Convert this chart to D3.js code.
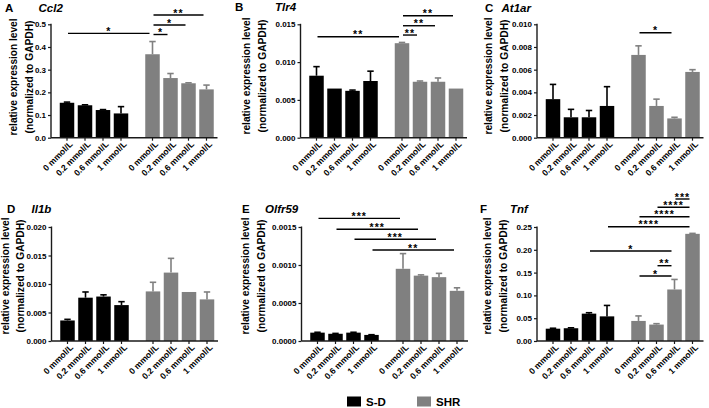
<!DOCTYPE html>
<html>
<head>
<meta charset="utf-8">
<script src="https://cdn.jsdelivr.net/npm/d3@7"></script>
<style>
  html, body { margin: 0; padding: 0; background: #ffffff; }
  svg { display: block; }
  text { font-family: "Liberation Sans", Arial, Helvetica, sans-serif; font-weight: bold; fill: #000; }
</style>
</head>
<body>
<svg id="chart" width="709" height="408"></svg>
<script>
// ---------------- DATA ----------------
const groups = ["S-D", "SHR"];
const doses = ["0 mmol/L", "0.2 mmol/L", "0.6 mmol/L", "1 mmol/L"];
const panelLetters = ["A", "B", "C", "D", "E", "F"];
const genes = ["Ccl2", "Tlr4", "At1ar", "Il1b", "Olfr59", "Tnf"];

// Ccl2
const ccl2SD = [0.154, 0.143, 0.122, 0.107];
const ccl2SDErr = [0.003, 0.002, 0.002, 0.030];
const ccl2SHR = [0.368, 0.263, 0.240, 0.213];
const ccl2SHRErr = [0.056, 0.020, 0.002, 0.019];
const ccl2Ticks = ["0.0", "0.1", "0.2", "0.3", "0.4", "0.5"];
const ccl2Sig = [[0, 4, "*", 0.460], [4, 5, "*", 0.455], [4, 6, "*", 0.497], [4, 7, "**", 0.541]];

// Tlr4
const tlr4SD = [0.0082, 0.0065, 0.0062, 0.0075];
const tlr4SDErr = [0.0012, 0, 0.0001, 0.0013];
const tlr4SHR = [0.0125, 0.0074, 0.0074, 0.0065];
const tlr4SHRErr = [0.0001, 0.0001, 0.0005, 0];
const tlr4Ticks = ["0.000", "0.005", "0.010", "0.015"];
const tlr4Sig = [[0, 4, "**", 0.01336], [4, 5, "**", 0.01358], [4, 6, "**", 0.01481], [4, 7, "**", 0.01614]];

// At1ar
const at1arSD = [0.0034, 0.0018, 0.0018, 0.0028];
const at1arSDErr = [0.0013, 0.0007, 0.0006, 0.0017];
const at1arSHR = [0.0073, 0.0028, 0.0017, 0.0058];
const at1arSHRErr = [0.0008, 0.0006, 0.0001, 0.0002];
const at1arTicks = ["0.000", "0.002", "0.004", "0.006", "0.008", "0.010"];
const at1arSig = [[4, 6, "*", 0.00926]];

// Il1b
const il1bSD = [0.0036, 0.0076, 0.0078, 0.0063];
const il1bSDErr = [0.0002, 0.0010, 0.0003, 0.0006];
const il1bSHR = [0.0087, 0.0120, 0.0086, 0.0073];
const il1bSHRErr = [0.0016, 0.0025, 0, 0.0013];
const il1bTicks = ["0.000", "0.005", "0.010", "0.015", "0.020"];
const il1bSig = [];

// Olfr59
const olfr59SD = [0.00011, 0.000095, 0.00011, 0.00008];
const olfr59SDErr = [0.000005, 0.000005, 0.000005, 0.000003];
const olfr59SHR = [0.00095, 0.00086, 0.00084, 0.00066];
const olfr59SHRErr = [0.0002, 0.00001, 0.00005, 0.00004];
const olfr59Ticks = ["0.0000", "0.0005", "0.0010", "0.0015"];
const olfr59Sig = [[0, 4, "***", 0.001614], [1, 5, "***", 0.00147], [2, 6, "***", 0.001338], [3, 7, "**", 0.001197]];

// Tnf
const tnfSD = [0.027, 0.028, 0.060, 0.054];
const tnfSDErr = [0.001, 0.001, 0.002, 0.024];
const tnfSHR = [0.044, 0.036, 0.113, 0.235];
const tnfSHRErr = [0.011, 0.002, 0.022, 0.001];
const tnfTicks = ["0.00", "0.05", "0.10", "0.15", "0.20", "0.25"];
const tnfSig = [[6, 7, "***", 0.3114], [5, 7, "****", 0.2932], [4, 7, "****", 0.2726], [3, 7, "****", 0.2507],
                [2, 6, "*", 0.1974], [5, 6, "**", 0.1651], [4, 6, "*", 0.1425]];

const yTitle = ["relative expression level", "(normalized to GAPDH)"];

// ---------------- LAYOUT / STYLE ----------------
const colors = { "S-D": "#000000", "SHR": "#808080" };
const panelsData = [
  { sd: ccl2SD, sdErr: ccl2SDErr, shr: ccl2SHR, shrErr: ccl2SHRErr, ticks: ccl2Ticks, sig: ccl2Sig },
  { sd: tlr4SD, sdErr: tlr4SDErr, shr: tlr4SHR, shrErr: tlr4SHRErr, ticks: tlr4Ticks, sig: tlr4Sig },
  { sd: at1arSD, sdErr: at1arSDErr, shr: at1arSHR, shrErr: at1arSHRErr, ticks: at1arTicks, sig: at1arSig },
  { sd: il1bSD, sdErr: il1bSDErr, shr: il1bSHR, shrErr: il1bSHRErr, ticks: il1bTicks, sig: il1bSig },
  { sd: olfr59SD, sdErr: olfr59SDErr, shr: olfr59SHR, shrErr: olfr59SHRErr, ticks: olfr59Ticks, sig: olfr59Sig },
  { sd: tnfSD, sdErr: tnfSDErr, shr: tnfSHR, shrErr: tnfSHRErr, ticks: tnfTicks, sig: tnfSig }
];
const layout = [
  { ax: 51,  top: 24.3, bottom: 137.7, letterX: 5,   geneX: 38.5, titleY: 12,  t1: 14.3,  t2: 30.3,  tc: 77 },
  { ax: 300.5, top: 24.3, bottom: 137.7, letterX: 235, geneX: 275, titleY: 11,  t1: 246.7, t2: 262.9, tc: 76 },
  { ax: 537, top: 24.3, bottom: 137.7, letterX: 485, geneX: 501.5, titleY: 12, t1: 489, t2: 505.2, tc: 76 },
  { ax: 51.5,  top: 227, bottom: 341, letterX: 7, geneX: 31.5, titleY: 213, t1: 5.5, t2: 21, tc: 276 },
  { ax: 301.5, top: 227, bottom: 341, letterX: 242, geneX: 265, titleY: 213, t1: 245.8, t2: 262, tc: 276 },
  { ax: 537, top: 227, bottom: 341, letterX: 480, geneX: 510, titleY: 213, t1: 487.5, t2: 503.7, tc: 276 }
];
const slotPos = [0, 1, 2, 3, 4.75, 5.75, 6.75, 7.75];
const slotW = 18;
const barW = 14.5;

const svg = d3.select("#chart");

panelsData.forEach((pd, p) => {
  const L = layout[p];
  const g = svg.append("g");
  const maxV = +pd.ticks[pd.ticks.length - 1];
  const y = d3.scaleLinear().domain([0, maxV]).range([L.bottom, L.top]);
  const x = d3.scaleLinear().domain([0, 1]).range([L.ax + 16, L.ax + 16 + slotW]);

  const bars = [];
  pd.sd.forEach((v, i) => bars.push({ g: "S-D", v, e: pd.sdErr[i], pos: slotPos[i], label: doses[i] }));
  pd.shr.forEach((v, i) => bars.push({ g: "SHR", v, e: pd.shrErr[i], pos: slotPos[i + 4], label: doses[i] }));

  // bars
  g.selectAll("rect.bar").data(bars).enter().append("rect")
    .attr("x", d => x(d.pos) - barW / 2)
    .attr("y", d => y(d.v))
    .attr("width", barW)
    .attr("height", d => y(0) - y(d.v))
    .attr("fill", d => colors[d.g]);

  // error bars (upper only)
  const eb = bars.filter(d => d.e > 0);
  g.selectAll("line.err").data(eb).enter().append("line")
    .attr("x1", d => x(d.pos)).attr("x2", d => x(d.pos))
    .attr("y1", d => y(d.v)).attr("y2", d => y(d.v + d.e))
    .attr("stroke", d => colors[d.g]).attr("stroke-width", 1.6);
  g.selectAll("line.cap").data(eb).enter().append("line")
    .attr("x1", d => x(d.pos) - 3.2).attr("x2", d => x(d.pos) + 3.2)
    .attr("y1", d => y(d.v + d.e)).attr("y2", d => y(d.v + d.e))
    .attr("stroke", d => colors[d.g]).attr("stroke-width", 1.6);

  // y axis
  const yAxis = d3.axisLeft(y)
    .tickValues(pd.ticks.map(Number))
    .tickFormat((d, i) => pd.ticks[i])
    .tickSize(3).tickPadding(2);
  const ya = g.append("g").attr("transform", `translate(${L.ax},0)`).call(yAxis);
  ya.select(".domain").attr("stroke", "#1a1a1a").attr("stroke-width", 1.4)
    .attr("d", `M0,${L.top - 0.5}V${L.bottom}`);
  ya.selectAll(".tick line").attr("stroke", "#1a1a1a").attr("stroke-width", 1.2);
  ya.selectAll(".tick text").attr("font-size", 8).attr("font-weight", "bold")
    .attr("font-family", "Liberation Sans, Arial, sans-serif").attr("fill", "#000");

  // x axis
  const xa = g.append("g");
  xa.append("line")
    .attr("x1", L.ax).attr("x2", x(slotPos[7]) + 11)
    .attr("y1", y(0)).attr("y2", y(0))
    .attr("stroke", "#1a1a1a").attr("stroke-width", 1.4);
  xa.selectAll("line.xt").data(bars).enter().append("line")
    .attr("x1", d => x(d.pos)).attr("x2", d => x(d.pos))
    .attr("y1", y(0)).attr("y2", y(0) + 3)
    .attr("stroke", "#1a1a1a").attr("stroke-width", 1.2);
  xa.selectAll("text.xl").data(bars).enter().append("text")
    .attr("transform", d => `translate(${x(d.pos) + 4},${y(0) + 5}) rotate(-45)`)
    .attr("text-anchor", "end")
    .attr("dy", "0.35em")
    .attr("font-size", 8.6)
    .text(d => d.label);

  // y title
  [L.t1, L.t2].forEach((cx, k) => {
    g.append("text")
      .attr("transform", `translate(${cx},${L.tc}) rotate(-90)`)
      .attr("text-anchor", "middle")
      .attr("dy", "0.3em")
      .attr("font-size", 10.5)
      .attr("textLength", k === 0 ? 117 : 113)
      .attr("lengthAdjust", "spacingAndGlyphs")
      .text(yTitle[k]);
  });

  // panel title
  g.append("text").attr("x", L.letterX).attr("y", L.titleY).attr("font-size", 11.5).text(panelLetters[p]);
  g.append("text").attr("x", L.geneX).attr("y", L.titleY).attr("font-size", 11.5)
    .attr("font-style", "italic").text(genes[p]);

  // significance
  const sg = g.selectAll("g.sig").data(pd.sig).enter().append("g");
  sg.append("line")
    .attr("x1", d => x(slotPos[d[0]]) + 1)
    .attr("x2", d => x(slotPos[d[1]]) - 3)
    .attr("y1", d => y(d[3])).attr("y2", d => y(d[3]))
    .attr("stroke", "#000").attr("stroke-width", 1.4);
  sg.append("text")
    .attr("x", d => (x(slotPos[d[0]]) + x(slotPos[d[1]])) / 2 - 1)
    .attr("y", d => y(d[3]) + 1.6)
    .attr("text-anchor", "middle")
    .attr("font-size", 10.5)
    .attr("letter-spacing", 1.1)
    .text(d => d[2]);
});

// legend
const lg = svg.append("g");
const legendX = d3.scaleOrdinal().domain(groups).range([347, 417]);
lg.selectAll("rect").data(groups).enter().append("rect")
  .attr("x", d => legendX(d)).attr("y", 396.5).attr("width", 14).attr("height", 10)
  .attr("fill", d => colors[d]);
lg.selectAll("text").data(groups).enter().append("text")
  .attr("x", d => legendX(d) + 19).attr("y", 406)
  .attr("font-size", 11.5).text(d => d);
</script>
</body>
</html>
